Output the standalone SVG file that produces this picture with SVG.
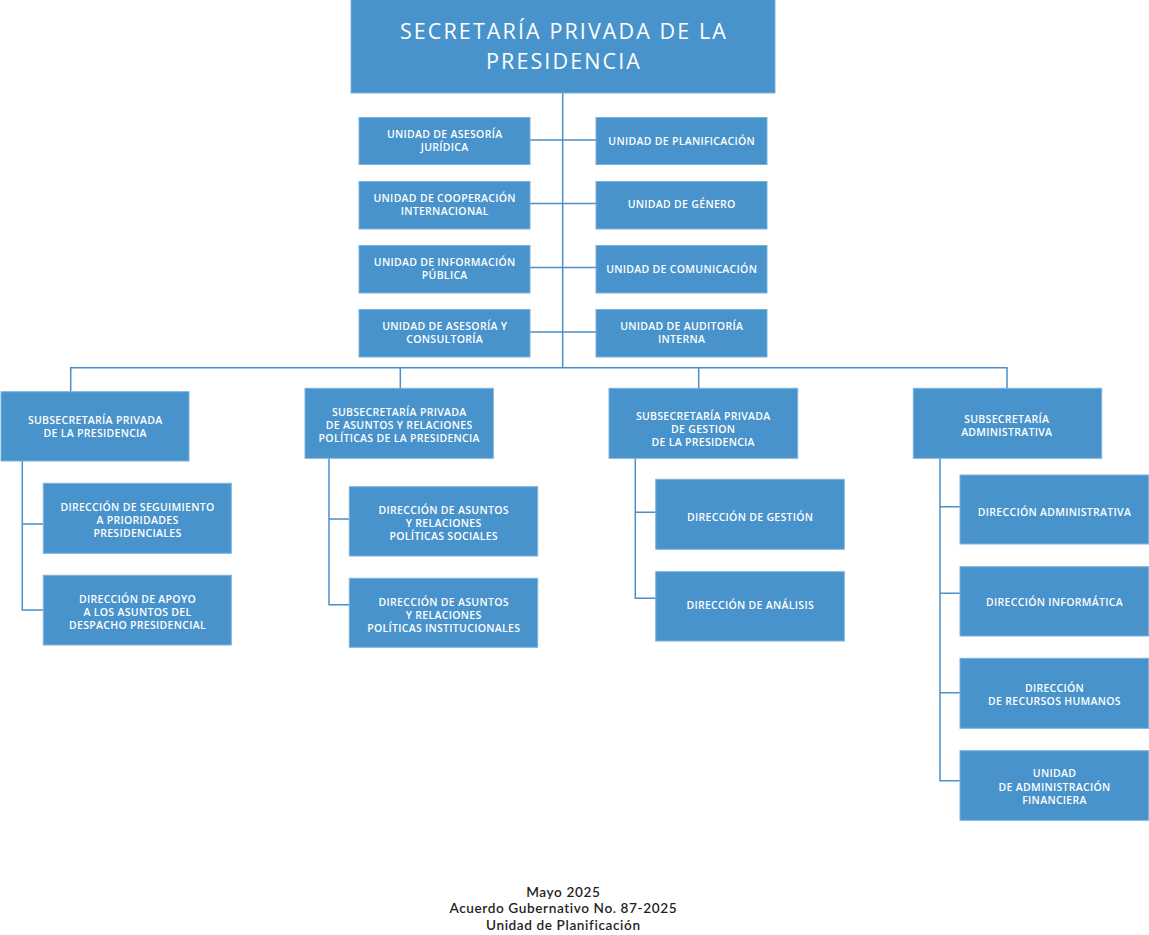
<svg xmlns="http://www.w3.org/2000/svg" width="1149" height="935" viewBox="0 0 1149 935">
<style>
.box{fill:#4893CB;stroke:#7DB2DE;stroke-width:1}
.t{font-family:"Open Sans","Noto Sans","Liberation Sans",sans-serif;font-weight:600;font-size:10.5px;letter-spacing:0.3px;fill:#FFFFFF;text-anchor:middle}
.title{font-family:"Open Sans","Noto Sans","Liberation Sans",sans-serif;font-weight:400;font-size:21.5px;letter-spacing:2.1px;fill:#FFFFFF;text-anchor:middle}
.foot{font-family:Lato,"Open Sans","Liberation Sans",sans-serif;font-weight:600;font-size:13.6px;letter-spacing:0.6px;fill:#1F1F1F;text-anchor:middle}
.ln{fill:none;stroke:#4A8FCA;stroke-width:1.5}
</style>
<rect width="1149" height="935" fill="#FFFFFF"/>
<g id="connectors">
<path class="ln" d="M562.7,93 V367.7"/>
<path class="ln" d="M530,140 H596 M530,203.5 H596 M530,267.5 H596 M530,332 H596"/>
<path class="ln" d="M70.7,391.7 V367.7 H1007 V388.3 M400.3,367.7 V388.3 M698.7,367.7 V388.3"/>
<path class="ln" d="M22.3,461 V610 H43 M22.3,524 H43"/>
<path class="ln" d="M329,458 V604.7 H349 M329,519 H349"/>
<path class="ln" d="M635.3,458 V598.3 H656 M635.3,512.3 H656"/>
<path class="ln" d="M940,458 V780.7 H960 M940,506.7 H960 M940,593.3 H960 M940,692.7 H960"/>
</g>
<g id="secretaria">
<rect class="box" x="351" y="-1" width="424" height="94"/>
<text class="title" x="564" y="38.5">SECRETARÍA PRIVADA DE LA</text>
<text class="title" x="564" y="68.5">PRESIDENCIA</text>
</g>
<g id="u-juridica">
<rect class="box" x="359" y="117.5" width="171" height="47"/>
<text class="t" x="444.7" y="137.8">UNIDAD DE ASESORÍA</text>
<text class="t" x="444.7" y="150.8">JURÍDICA</text>
</g>
<g id="u-planificacion">
<rect class="box" x="596" y="117.5" width="171" height="47"/>
<text class="t" x="681.7" y="144.5">UNIDAD DE PLANIFICACIÓN</text>
</g>
<g id="u-cooperacion">
<rect class="box" x="359" y="181.5" width="171" height="47.5"/>
<text class="t" x="444.7" y="201.7">UNIDAD DE COOPERACIÓN</text>
<text class="t" x="444.7" y="215">INTERNACIONAL</text>
</g>
<g id="u-genero">
<rect class="box" x="596" y="181.5" width="171" height="47.5"/>
<text class="t" x="681.7" y="208.3">UNIDAD DE GÉNERO</text>
</g>
<g id="u-informacion">
<rect class="box" x="359" y="245.5" width="171" height="47.5"/>
<text class="t" x="444.7" y="265.5">UNIDAD DE INFORMACIÓN</text>
<text class="t" x="444.7" y="278.8">PÚBLICA</text>
</g>
<g id="u-comunicacion">
<rect class="box" x="596" y="245.5" width="171" height="47.5"/>
<text class="t" x="681.7" y="272.5">UNIDAD DE COMUNICACIÓN</text>
</g>
<g id="u-consultoria">
<rect class="box" x="359" y="309.5" width="171" height="47.5"/>
<text class="t" x="444.7" y="329.5">UNIDAD DE ASESORÍA Y</text>
<text class="t" x="444.7" y="342.8">CONSULTORÍA</text>
</g>
<g id="u-auditoria">
<rect class="box" x="596" y="309.5" width="171" height="47.5"/>
<text class="t" x="681.7" y="329.7">UNIDAD DE AUDITORÍA</text>
<text class="t" x="681.7" y="342.8">INTERNA</text>
</g>
<g id="sub-presidencia">
<rect class="box" x="1" y="391.7" width="188" height="69.3"/>
<text class="t" x="95.2" y="423.5">SUBSECRETARÍA PRIVADA</text>
<text class="t" x="95.2" y="436.5">DE LA PRESIDENCIA</text>
</g>
<g id="sub-asuntos">
<rect class="box" x="305" y="388.3" width="188.3" height="70"/>
<text class="t" x="399.2" y="416">SUBSECRETARÍA PRIVADA</text>
<text class="t" x="399.2" y="429">DE ASUNTOS Y RELACIONES</text>
<text class="t" x="399.2" y="442">POLÍTICAS DE LA PRESIDENCIA</text>
</g>
<g id="sub-gestion">
<rect class="box" x="609" y="388.3" width="188.7" height="70"/>
<text class="t" x="703.2" y="420">SUBSECRETARÍA PRIVADA</text>
<text class="t" x="703.2" y="433">DE GESTION</text>
<text class="t" x="703.2" y="446">DE LA PRESIDENCIA</text>
</g>
<g id="sub-administrativa">
<rect class="box" x="913.3" y="388.3" width="188.4" height="70"/>
<text class="t" x="1006.7" y="423.3">SUBSECRETARÍA</text>
<text class="t" x="1006.7" y="436.3">ADMINISTRATIVA</text>
</g>
<g id="d-seguimiento">
<rect class="box" x="43.3" y="483.3" width="188" height="70"/>
<text class="t" x="137.5" y="510.7">DIRECCIÓN DE SEGUIMIENTO</text>
<text class="t" x="137.5" y="523.7">A PRIORIDADES</text>
<text class="t" x="137.5" y="536.7">PRESIDENCIALES</text>
</g>
<g id="d-apoyo">
<rect class="box" x="43.3" y="575.3" width="188" height="69.7"/>
<text class="t" x="137.5" y="602.7">DIRECCIÓN DE APOYO</text>
<text class="t" x="137.5" y="615.7">A LOS ASUNTOS DEL</text>
<text class="t" x="137.5" y="628.7">DESPACHO PRESIDENCIAL</text>
</g>
<g id="d-sociales">
<rect class="box" x="349.3" y="486.7" width="188.4" height="69.3"/>
<text class="t" x="443.7" y="514">DIRECCIÓN DE ASUNTOS</text>
<text class="t" x="443.7" y="527">Y RELACIONES</text>
<text class="t" x="443.7" y="540">POLÍTICAS SOCIALES</text>
</g>
<g id="d-institucionales">
<rect class="box" x="349.3" y="578.3" width="188.4" height="69"/>
<text class="t" x="443.7" y="606">DIRECCIÓN DE ASUNTOS</text>
<text class="t" x="443.7" y="619">Y RELACIONES</text>
<text class="t" x="443.7" y="632">POLÍTICAS INSTITUCIONALES</text>
</g>
<g id="d-gestion">
<rect class="box" x="655.7" y="479.3" width="188.6" height="70"/>
<text class="t" x="750.2" y="520.8">DIRECCIÓN DE GESTIÓN</text>
</g>
<g id="d-analisis">
<rect class="box" x="655.7" y="571.7" width="188.6" height="69.3"/>
<text class="t" x="750.2" y="609">DIRECCIÓN DE ANÁLISIS</text>
</g>
<g id="d-administrativa">
<rect class="box" x="960" y="475" width="188.5" height="69"/>
<text class="t" x="1054.5" y="516">DIRECCIÓN ADMINISTRATIVA</text>
</g>
<g id="d-informatica">
<rect class="box" x="960" y="566.7" width="188.5" height="69.3"/>
<text class="t" x="1054.5" y="605.5">DIRECCIÓN INFORMÁTICA</text>
</g>
<g id="d-rrhh">
<rect class="box" x="960" y="658.3" width="188.5" height="70"/>
<text class="t" x="1054.5" y="691.7">DIRECCIÓN</text>
<text class="t" x="1054.5" y="705">DE RECURSOS HUMANOS</text>
</g>
<g id="u-financiera">
<rect class="box" x="960" y="750.7" width="188.5" height="69.6"/>
<text class="t" x="1054.5" y="777.3">UNIDAD</text>
<text class="t" x="1054.5" y="790.6">DE ADMINISTRACIÓN</text>
<text class="t" x="1054.5" y="803.9">FINANCIERA</text>
</g>
<g id="footer">
<text class="foot" x="563.3" y="896.5">Mayo 2025</text>
<text class="foot" x="563.3" y="913">Acuerdo Gubernativo No. 87-2025</text>
<text class="foot" x="563.3" y="929.5">Unidad de Planificación</text>
</g>
</svg>
